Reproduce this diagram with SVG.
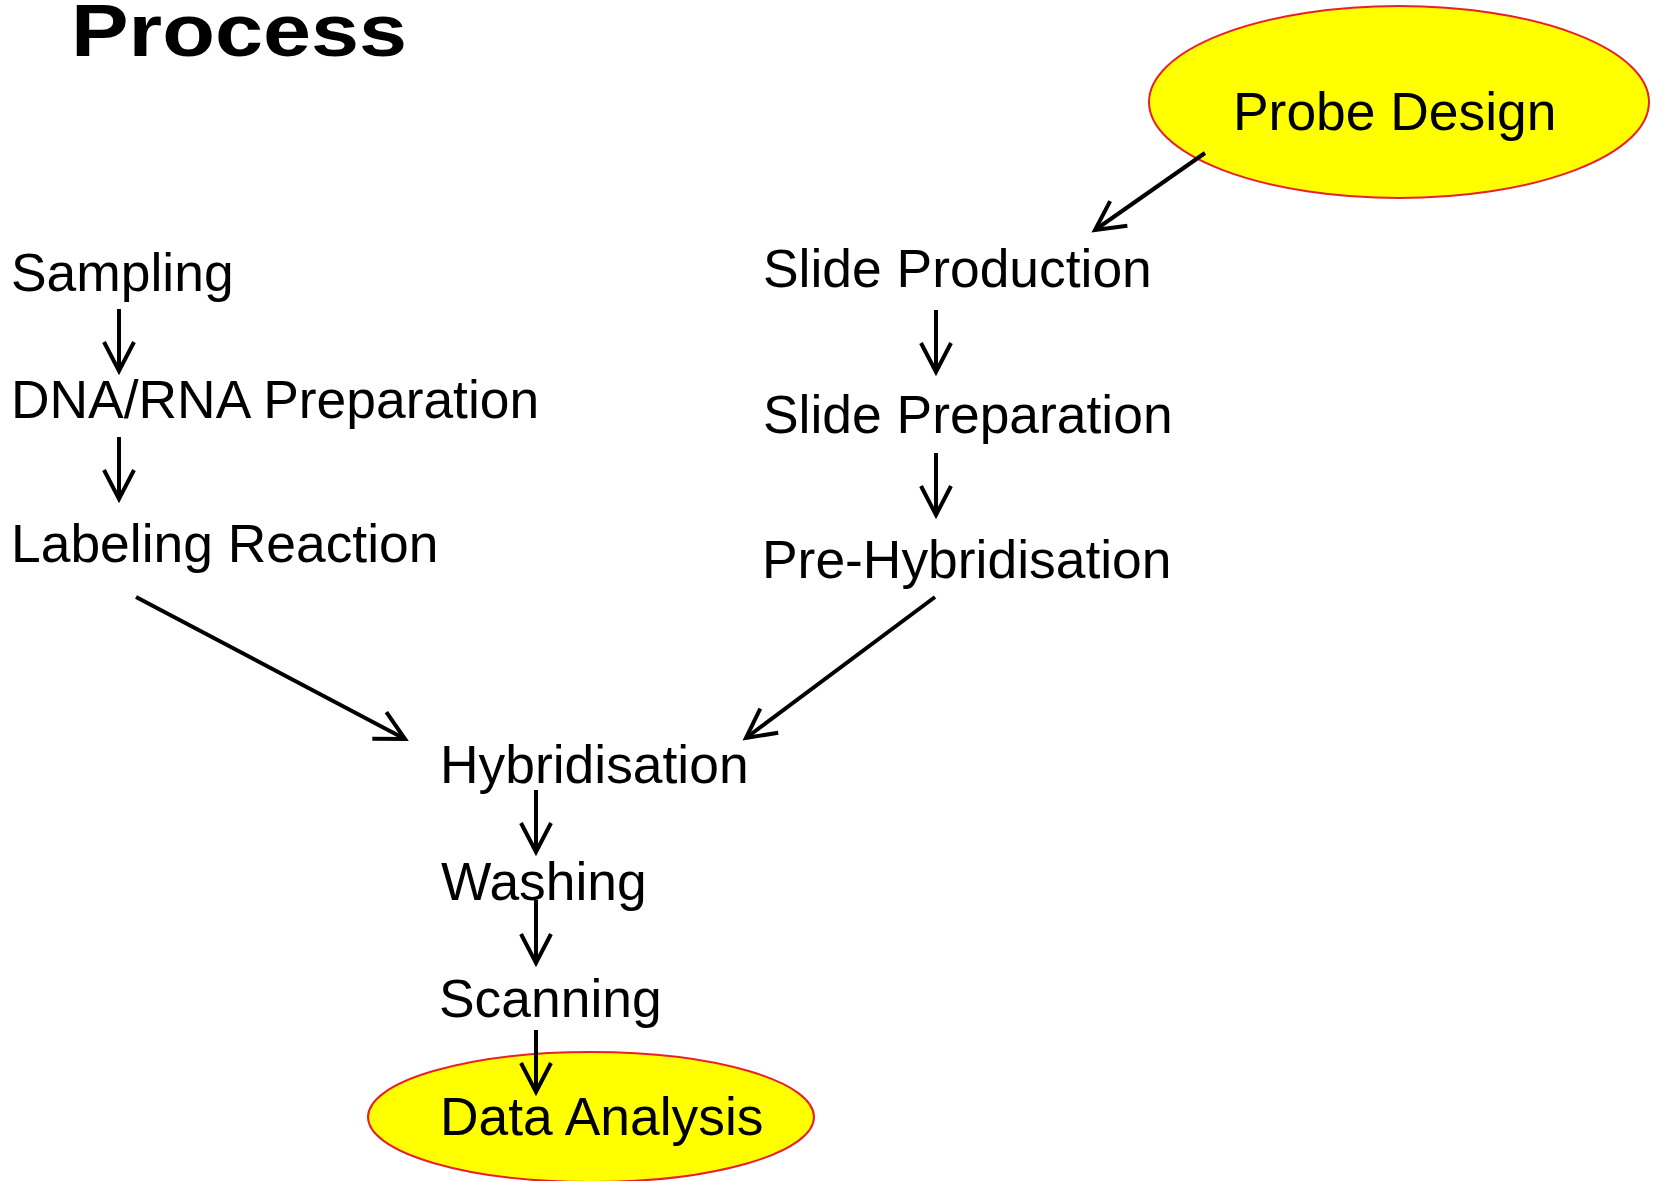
<svg xmlns="http://www.w3.org/2000/svg" width="1660" height="1181" viewBox="0 0 1660 1181">
<style>
  text { font-family: "Liberation Sans", Arial, sans-serif; fill: #000; }
  .lbl { font-size: 53.4px; }
  .title { font-size: 74px; font-weight: bold; }
  .oval { fill: #FFFF00; stroke: #E8202A; stroke-width: 2; }
  .conn line { stroke: #000; stroke-width: 4; fill: none; marker-end: url(#arr); }
</style>
<defs>
  <marker id="arr" markerUnits="userSpaceOnUse" orient="auto" refX="0" refY="0" markerWidth="40" markerHeight="40" viewBox="-34 -20 40 40" overflow="visible">
    <path d="M-29,-15 L0,0 L-29,15" fill="none" stroke="#000" stroke-width="4" stroke-linejoin="miter" stroke-linecap="butt"/>
  </marker>
</defs>
<rect width="1660" height="1181" fill="#fff"/>
<g id="title"><text class="title" x="71" y="56" textLength="336" lengthAdjust="spacingAndGlyphs">Process</text></g>
<g id="probe-design">
  <ellipse class="oval" cx="1399" cy="102" rx="250" ry="96"/>
  <text class="lbl" x="1233" y="130">Probe Design</text>
</g>
<g id="sampling"><text class="lbl" x="11" y="291">Sampling</text></g>
<g id="dna-rna-preparation"><text class="lbl" x="11" y="418">DNA/RNA Preparation</text></g>
<g id="labeling-reaction"><text class="lbl" x="11" y="562">Labeling Reaction</text></g>
<g id="slide-production"><text class="lbl" x="763" y="287">Slide Production</text></g>
<g id="slide-preparation"><text class="lbl" x="763" y="433">Slide Preparation</text></g>
<g id="pre-hybridisation"><text class="lbl" x="762" y="578">Pre-Hybridisation</text></g>
<g id="hybridisation"><text class="lbl" x="440" y="783">Hybridisation</text></g>
<g id="washing"><text class="lbl" x="441" y="900">Washing</text></g>
<g id="scanning"><text class="lbl" x="439" y="1017">Scanning</text></g>
<g id="data-analysis">
  <ellipse class="oval" cx="591" cy="1117" rx="223" ry="65"/>
  <text class="lbl" x="440" y="1135">Data Analysis</text>
</g>
<g id="connectors" class="conn">
  <line x1="1205" y1="153" x2="1095" y2="230"/>
  <line x1="119" y1="309" x2="119" y2="371"/>
  <line x1="119" y1="437" x2="119" y2="499"/>
  <line x1="936" y1="310" x2="936" y2="372"/>
  <line x1="936" y1="453" x2="936" y2="515"/>
  <line x1="136" y1="597" x2="405" y2="739"/>
  <line x1="935" y1="597" x2="746" y2="738"/>
  <line x1="536" y1="790" x2="536" y2="852"/>
  <line x1="536" y1="900" x2="536" y2="963"/>
  <line x1="536" y1="1030" x2="536" y2="1092"/>
</g>
</svg>
